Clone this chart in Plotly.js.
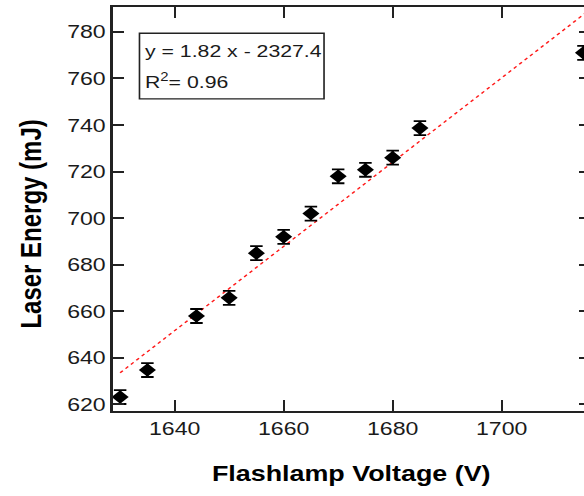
<!DOCTYPE html>
<html>
<head>
<meta charset="utf-8">
<script src="https://cdn.plot.ly/plotly-3.0.1.min.js"></script>
<style>
  html, body { margin: 0; padding: 0; background: #fff; overflow: hidden; width: 584px; height: 496px; }
  #wrap { width: 584px; height: 496px; overflow: hidden; position: relative; }
  #chart { position: absolute; left: 0; top: 0; width: 474px; height: 496px; transform: scaleX(1.25); transform-origin: 0 0; }
</style>
</head>
<body>
<div id="wrap"><div id="chart"></div></div>
<script>
const voltage = [1630, 1635, 1644, 1650, 1655, 1660, 1665, 1670, 1675, 1680, 1685, 1715];
const energy  = [623.2, 634.8, 658, 665.8, 685, 692, 702, 718, 720.8, 726, 738.7, 771];
const energyErr = [3, 3, 3, 3, 3, 3, 3, 3, 3, 3, 3, 3];

// Linear fit line as drawn (end points)
const fitX = [1630, 1716.2];
const fitY = [633.6, 789.6];

const fitLabel = 'y = 1.82 x - 2327.4';
const r2Label = 'R<sup>2</sup>= 0.96';
const xTitle = 'Flashlamp Voltage (V)';
const yTitle = 'Laser Energy (mJ)';

const xTicks = [1640, 1660, 1680, 1700];
const yTicks = [620, 640, 660, 680, 700, 720, 740, 760, 780];

const ink = '#1a1a1a';
const fontFam = '"Liberation Sans", Arial, Helvetica, sans-serif';

const traces = [
  {
    x: fitX, y: fitY, type: 'scatter', mode: 'lines',
    line: { color: '#ff1a1a', width: 1.3, dash: 'dot' },
    hoverinfo: 'skip', showlegend: false, cliponaxis: true
  },
  {
    x: voltage, y: energy, type: 'scatter', mode: 'markers',
    marker: { symbol: 'diamond', size: 10.5, color: '#000' },
    error_y: { type: 'data', array: energyErr, visible: true, color: '#000', thickness: 1.8, width: 5 },
    showlegend: false, cliponaxis: false
  }
];

const layout = {
  width: 474, height: 496,
  margin: { l: 90, r: 2, t: 7, b: 85 },
  paper_bgcolor: '#fff', plot_bgcolor: '#fff',
  showlegend: false,
  font: { family: fontFam, color: ink },
  xaxis: {
    range: [1628.6, 1716.2],
    tickvals: xTicks, ticktext: xTicks.map(String),
    ticks: 'inside', ticklen: 11, tickwidth: 1.4, tickcolor: '#222',
    showline: true, linecolor: '#222', linewidth: 2, mirror: 'ticks',
    showgrid: false, zeroline: false,
    tickfont: { family: fontFam, size: 18.5, color: ink },
    title: { text: xTitle, font: { family: fontFam, size: 21.5, weight: 'bold', color: '#000' }, standoff: 28 }
  },
  yaxis: {
    range: [617.2, 790.7],
    tickvals: yTicks, ticktext: yTicks.map(String),
    ticks: 'inside', ticklen: 9, tickwidth: 2, tickcolor: '#222',
    showline: true, linecolor: '#222', linewidth: 1.7, mirror: 'ticks',
    showgrid: false, zeroline: false,
    tickfont: { family: fontFam, size: 18.5, color: ink }
  },
  shapes: [
    { type: 'rect', xref: 'paper', yref: 'paper', x0: 0.0565, x1: 0.443, y0: 0.7726, y1: 0.935,
      line: { color: '#222', width: 1.3 }, fillcolor: 'rgba(0,0,0,0)' }
  ],
  annotations: [
    { xref: 'paper', yref: 'paper', x: 0.064, y: 0.889, xanchor: 'left', yanchor: 'middle',
      text: fitLabel, showarrow: false, font: { family: fontFam, size: 17, color: ink } },
    { xref: 'paper', yref: 'paper', x: 0.064, y: 0.817, xanchor: 'left', yanchor: 'middle',
      text: r2Label, showarrow: false, font: { family: fontFam, size: 17, color: ink } },
    { xref: 'paper', yref: 'paper', x: -0.172, y: 0.462, xanchor: 'center', yanchor: 'middle',
      textangle: -90, text: yTitle, showarrow: false,
      font: { family: fontFam, size: 24, weight: 'bold', color: '#000' } }
  ]
};

Plotly.newPlot('chart', traces, layout, { displayModeBar: false, staticPlot: true });
</script>
</body>
</html>
